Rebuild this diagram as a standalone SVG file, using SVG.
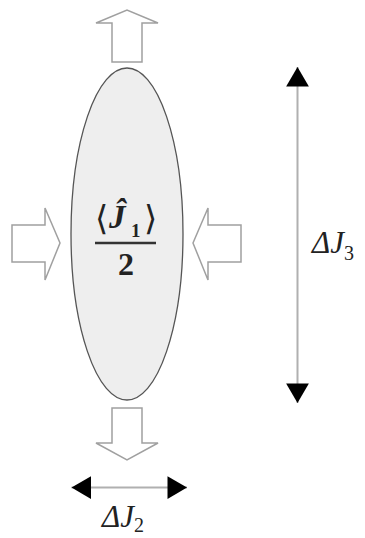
<svg xmlns="http://www.w3.org/2000/svg" width="365" height="538" viewBox="0 0 365 538">
<style>
  .blk { fill: #ffffff; stroke: #a0a0a0; stroke-width: 1.5; stroke-linejoin: miter; }
  .dim { stroke: #b0b0b0; stroke-width: 2; fill: none; }
  .lbl { font-family: "Liberation Serif", "DejaVu Serif", serif; fill: #222; }
</style>
<defs>
  <marker id="ah" markerUnits="userSpaceOnUse" markerWidth="24" markerHeight="26" viewBox="-19 -12 20 24" refX="0" refY="0" orient="auto-start-reverse">
    <path d="M0,0 L-18,-10.5 L-18,10.5 Z" fill="#000"/>
  </marker>
</defs>
<rect width="365" height="538" fill="#fff"/>

<g id="ellipse">
  <ellipse cx="127" cy="234" rx="56" ry="166" fill="#eeeeee" stroke="#555" stroke-width="1.3"/>
  <text class="lbl" x="95" y="230" font-size="34" fill="#444">⟨</text>
  <text class="lbl" x="109" y="228" font-size="33" font-weight="bold" font-style="italic">Ĵ</text>
  <text class="lbl" x="131" y="237" font-size="19" font-weight="bold">1</text>
  <text class="lbl" x="144" y="230" font-size="34" fill="#444">⟩</text>
  <line x1="95" y1="243" x2="156" y2="243" stroke="#333" stroke-width="2.5"/>
  <text class="lbl" x="126" y="275" font-size="32" font-weight="bold" text-anchor="middle">2</text>
</g>

<g id="arrow-top">
  <polygon class="blk" points="112,62 112,23 96,23 127,10 158,23 142,23 142,62"/>
</g>
<g id="arrow-bottom">
  <polygon class="blk" points="112,408 142,408 142,443 158,443 127,460 96,443 112,443"/>
</g>
<g id="arrow-left">
  <polygon class="blk" points="12,225 45,225 45,208 60,243 45,280 45,262 12,262"/>
</g>
<g id="arrow-right">
  <polygon class="blk" points="241,225 208,225 208,208 193,243 208,280 208,262 241,262"/>
</g>

<g id="connectors">
  <line class="dim" x1="297.5" y1="67" x2="297.5" y2="403" marker-start="url(#ah)" marker-end="url(#ah)"/>
  <line class="dim" x1="71.5" y1="487.5" x2="187" y2="487.5" marker-start="url(#ah)" marker-end="url(#ah)"/>
</g>

<g id="label-dJ3">
  <text class="lbl" x="312" y="253" font-size="31" font-style="italic">ΔJ<tspan font-size="20" font-style="normal" dy="7">3</tspan></text>
</g>
<g id="label-dJ2">
  <text class="lbl" x="102" y="527" font-size="31" font-style="italic">ΔJ<tspan font-size="20" font-style="normal" dy="5">2</tspan></text>
</g>
</svg>
